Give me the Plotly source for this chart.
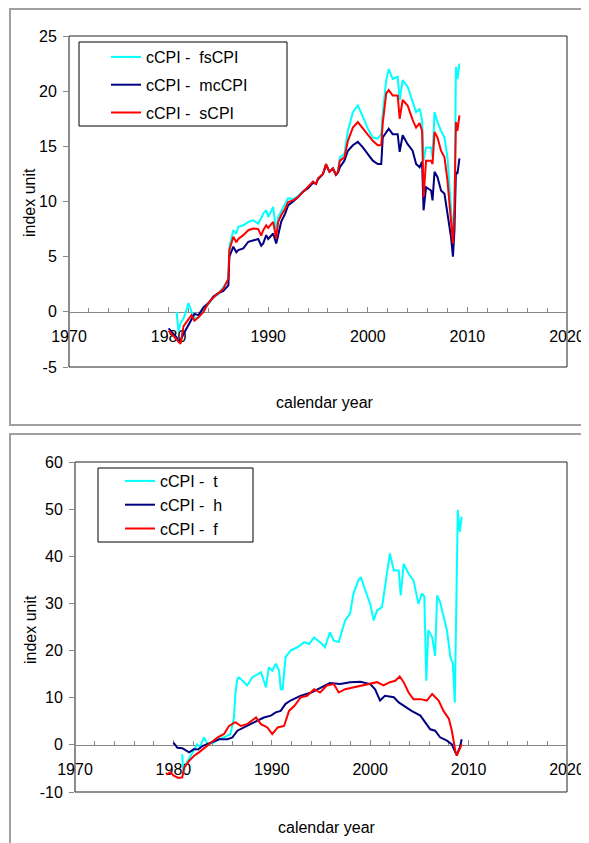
import plotly.graph_objects as go

W, H = 589, 843          # browser window
OFF = 8                  # default page body margin
FW, FH = W - OFF, H - OFF  # figure size so the page fits the window
FONT = "Liberation Sans, Arial, sans-serif"

# ---------------- top panel data ----------------
top_year = [1980.0, 1980.4, 1980.8, 1981.0, 1981.2, 1981.5, 1981.8, 1982.0, 1982.3, 1982.6,
            1983.0, 1983.5, 1984.0, 1984.5, 1985.0, 1985.5, 1986.0, 1986.1, 1986.5, 1986.8,
            1987.0, 1987.5, 1988.0, 1988.5, 1989.0, 1989.3, 1989.5, 1989.8, 1990.0, 1990.5,
            1990.8, 1991.0, 1991.3, 1991.7, 1992.0, 1992.5, 1993.0, 1993.5, 1994.0, 1994.5,
            1994.8, 1995.0, 1995.5, 1995.8, 1996.15, 1996.5, 1996.8, 1997.0, 1997.2, 1997.65,
            1998.0, 1998.5, 1999.0, 1999.5, 2000.0, 2000.5, 2001.0, 2001.35, 2001.5, 2001.85,
            2002.1, 2002.5, 2003.0, 2003.2, 2003.5, 2004.0, 2004.5, 2004.85, 2005.2, 2005.45,
            2005.6, 2005.85, 2006.35, 2006.5, 2006.7, 2007.0, 2007.35, 2007.7, 2008.0, 2008.35,
            2008.55, 2008.7, 2008.85, 2009.0, 2009.2]
top_fscpi = [None, None, 0.0, -1.8, -1.0, -0.6, 0.2, 0.8, 0.0, -0.6,
             -0.5, 0.2, 0.7, 1.3, 1.6, 2.3, 2.9, 5.9, 7.4, 7.1,
             7.7, 7.85, 8.15, 8.3, 8.0, 8.5, 8.9, 9.2, 8.6, 9.5,
             7.25, 8.6, 9.1, 9.8, 10.3, 10.2, 10.5, 10.9, 11.3, 11.8,
             11.6, 12.1, 12.5, 13.4, 12.7, 13.0, 12.4, 12.7, 14.0, 14.3,
             16.4, 18.1, 18.7, 17.7, 16.6, 15.8, 15.7, 16.1, 18.0, 21.0,
             22.0, 21.1, 21.3, 19.2, 21.0, 20.4, 19.0, 18.1, 18.4, 17.4,
             13.7, 14.9, 14.9, 14.0, 18.1, 17.2, 16.4, 15.8, 14.0, 9.5,
             6.8, 9.8, 22.2, 21.1, 22.5]
top_mccpi = [-1.5, -1.9, -2.3, -2.7, -2.6, -2.0, -1.5, -1.2, -0.6, -0.2,
             -0.3, 0.4, 0.8, 1.4, 1.7, 1.9, 2.4, 5.0, 5.9, 5.4,
             5.6, 5.75, 6.35, 6.5, 6.6, 6.0, 6.2, 6.95, 6.6, 7.1,
             6.2, 6.95, 8.15, 8.9, 9.65, 10.0, 10.4, 10.9, 11.2, 11.7,
             11.6, 12.0, 12.5, 13.3, 12.7, 13.0, 12.4, 12.6, 13.1, 13.7,
             14.6, 15.1, 15.4, 14.9, 14.3, 13.7, 13.4, 13.4, 15.8, 16.3,
             16.6, 16.1, 16.1, 14.5, 16.0, 15.2, 14.6, 13.4, 13.1, 13.6,
             9.2, 11.3, 11.0, 10.1, 12.7, 12.2, 11.0, 10.7, 8.9, 6.8,
             5.0, 7.4, 12.7, 12.5, 13.9]
top_scpi = [-1.7, -2.1, -2.5, -2.8, -2.9, -1.3, -0.9, -0.7, -0.3, -0.8,
            -0.5, 0.0, 0.8, 1.3, 1.7, 2.1, 3.0, 5.6, 6.8, 6.3,
            6.6, 6.95, 7.4, 7.55, 7.5, 6.9, 7.4, 7.85, 7.6, 8.15,
            6.65, 8.15, 8.75, 9.35, 9.95, 10.1, 10.4, 10.9, 11.3, 11.8,
            11.6, 12.1, 12.5, 13.4, 12.7, 13.0, 12.4, 12.7, 13.7, 14.0,
            15.5, 16.7, 17.2, 16.6, 16.0, 15.5, 15.1, 15.1, 17.1, 19.8,
            20.1, 19.6, 19.6, 17.5, 19.2, 18.7, 17.4, 16.7, 17.1, 16.4,
            10.4, 13.7, 13.7, 13.4, 16.3, 15.8, 14.6, 14.0, 11.9, 8.3,
            6.2, 9.2, 17.2, 16.4, 17.8]

# ---------------- bottom panel data ----------------
bot_t_year = [1980.9, 1981.0, 1981.3, 1981.7, 1982.1, 1982.4, 1982.7, 1983.1, 1983.5, 1984.1,
              1984.6, 1985.15, 1985.8, 1986.15, 1986.3, 1986.5, 1986.7, 1987.0, 1987.5, 1988.0,
              1988.5, 1988.9, 1989.2, 1989.4, 1989.7, 1990.05, 1990.4, 1990.75, 1990.9, 1991.1,
              1991.4, 1991.9, 1992.6, 1993.3, 1993.8, 1994.3, 1995.0, 1995.4, 1995.9, 1996.3,
              1996.8, 1997.45, 1997.95, 1998.3, 1998.8, 1999.05, 1999.5, 2000.0, 2000.35, 2000.7,
              2001.2, 2001.5, 2001.85, 2002.0, 2002.4, 2002.9, 2003.1, 2003.4, 2003.9, 2004.4,
              2004.9, 2005.25, 2005.5, 2005.7, 2005.9, 2006.3, 2006.6, 2006.8, 2007.1, 2007.45,
              2007.8, 2008.15, 2008.4, 2008.6, 2008.7, 2008.9, 2009.1, 2009.3]
bot_t = [-2.0, -6.2, -4.0, -2.5, -1.3, 0.1, -0.5, 1.6, 0.1, 0.5,
         1.2, 1.6, 2.3, 5.8, 10.8, 14.0, 14.3, 13.6, 12.6, 14.3,
         15.0, 15.4, 13.5, 12.2, 16.5, 15.7, 17.2, 15.7, 11.8, 11.8,
         18.6, 20.0, 20.7, 21.8, 21.4, 22.8, 21.6, 20.7, 23.9, 22.1,
         21.8, 26.4, 27.8, 32.1, 34.9, 35.6, 32.8, 29.9, 26.4, 28.5,
         29.2, 33.5, 39.1, 40.6, 37.0, 37.0, 31.7, 38.4, 36.3, 34.9,
         29.9, 32.1, 31.5, 13.6, 24.3, 22.8, 18.9, 31.7, 30.3, 27.1,
         24.3, 18.6, 17.2, 9.0, 26.4, 49.8, 45.2, 48.4]

bot_h_year = [1980.0, 1980.4, 1980.9, 1981.6, 1982.1, 1982.5, 1983.0, 1983.8, 1984.65, 1985.5,
              1986.0, 1986.5, 1987.2, 1987.9, 1988.5, 1989.2, 1989.9, 1990.4, 1990.9, 1991.4,
              1991.9, 1992.9, 1994.0, 1995.0, 1995.9, 1996.95, 1997.97, 1999.0, 2000.0, 2000.5,
              2001.0, 2001.5, 2002.4, 2002.9, 2003.4, 2004.2, 2005.1, 2005.6, 2006.1, 2006.6,
              2007.1, 2007.8, 2008.3, 2008.65, 2008.8, 2009.1, 2009.3]
bot_h = [0.5, -0.6, -0.7, -1.6, -0.9, -1.0, -0.2, 0.5, 1.2, 1.2,
         1.6, 3.0, 3.7, 4.4, 5.1, 5.8, 6.2, 6.9, 7.2, 8.7,
         9.4, 10.4, 11.1, 12.2, 13.1, 12.9, 13.3, 13.4, 12.9, 11.8,
         9.4, 10.4, 10.1, 9.0, 8.3, 7.2, 6.2, 4.8, 3.3, 3.0,
         1.6, 0.9, 0.1, -1.6, -2.1, -0.6, 1.2]

bot_f_year = [1979.3, 1979.7, 1980.0, 1980.5, 1980.9, 1981.1, 1981.6, 1982.1, 1982.6, 1983.0,
              1983.8, 1984.5, 1985.15, 1985.65, 1986.3, 1986.85, 1987.5, 1988.4, 1988.9, 1989.55,
              1990.05, 1990.6, 1991.25, 1991.75, 1992.3, 1992.95, 1993.6, 1994.3, 1994.9, 1995.6,
              1996.3, 1996.8, 1997.45, 1998.3, 1999.3, 2000.0, 2000.7, 2001.35, 2002.0, 2002.55,
              2003.0, 2003.4, 2003.9, 2004.4, 2005.1, 2005.75, 2006.3, 2006.95, 2007.45, 2008.0,
              2008.3, 2008.65, 2008.8, 2009.15, 2009.3]
bot_f = [-6.3, -5.8, -6.5, -7.0, -6.9, -4.8, -3.4, -2.3, -1.6, -0.9,
         0.5, 1.6, 2.3, 4.0, 4.8, 4.0, 4.4, 5.8, 4.4, 3.7,
         2.3, 3.7, 4.0, 7.2, 8.3, 10.1, 10.4, 11.8, 11.1, 12.6,
         12.9, 11.1, 11.8, 12.2, 12.6, 12.9, 13.3, 12.6, 13.3, 13.6,
         14.5, 13.3, 11.1, 9.7, 9.7, 9.4, 10.8, 9.4, 7.2, 5.5,
         3.0, -1.3, -2.3, -0.6, 0.1]

top_names = ["cCPI -\u00a0 fsCPI", "cCPI -\u00a0 mcCPI", "cCPI -\u00a0 sCPI"]
bot_names = ["cCPI -\u00a0 t", "cCPI -\u00a0 h", "cCPI -\u00a0 f"]
colors = ["#00FFFF", "#000080", "#FF0000"]

x_range = [1970, 2020]
top_y_range = [-5, 25]
bot_y_range = [-10, 60]
top_y_ticks = [-5, 0, 5, 10, 15, 20, 25]
bot_y_ticks = [-10, 0, 10, 20, 30, 40, 50, 60]
x_axis_title = "calendar year"
y_axis_title = "index unit"


def px(v):
    # window pixel -> paper fraction
    return (v - OFF) / FW


def py(v):
    return 1 - (v - OFF) / FH


fig = go.Figure()

for ys, name, c in zip([top_fscpi, top_mccpi, top_scpi], top_names, colors):
    fig.add_trace(go.Scatter(x=top_year, y=ys, mode="lines", name=name,
                             line=dict(color=c, width=2), xaxis="x", yaxis="y",
                             legend="legend", legendgroup=name, connectgaps=False))

for xs, ys, name, c in zip([bot_t_year, bot_h_year, bot_f_year], [bot_t, bot_h, bot_f], bot_names, colors):
    fig.add_trace(go.Scatter(x=xs, y=ys, mode="lines", name=name,
                             line=dict(color=c, width=2), xaxis="x2", yaxis="y2",
                             legend="legend2"))

top_ydom = [py(367), py(36)]
bot_ydom = [py(792), py(462)]


def zero_pos(dom, rng):
    return dom[0] + (0 - rng[0]) / (rng[1] - rng[0]) * (dom[1] - dom[0])


tickfont = dict(family=FONT, size=16, color="black")

xcommon = dict(range=x_range, tick0=1970, dtick=10, ticks="inside", ticklen=5,
               tickcolor="#888888", tickwidth=1,
               minor=dict(dtick=2, ticks="inside", ticklen=4, tickcolor="#888888"),
               showline=True, linecolor="#888888", linewidth=1,
               showgrid=False, zeroline=False, layer="below traces",
               tickfont=tickfont, ticklabelstandoff=10, anchor="free", automargin=False)
ycommon = dict(ticks="outside", ticklen=5, tickcolor="#888888", showline=True,
               linecolor="#888888", linewidth=1, showgrid=False, zeroline=False,
               tickfont=tickfont, ticklabelstandoff=3, layer="below traces", automargin=False)

fig.update_layout(
    template="none",
    width=FW, height=FH, autosize=False,
    margin=dict(l=0, r=0, t=0, b=0, pad=0),
    paper_bgcolor="white", plot_bgcolor="white",
    font=dict(family=FONT, size=16, color="black"),
    showlegend=True,
    xaxis=dict(domain=[px(69), px(567)], position=zero_pos(top_ydom, top_y_range), **xcommon),
    yaxis=dict(domain=top_ydom, range=top_y_range, tickmode="array", tickvals=top_y_ticks,
               ticktext=[str(v) for v in top_y_ticks], anchor="x", **ycommon),
    xaxis2=dict(domain=[px(75), px(567)], position=zero_pos(bot_ydom, bot_y_range), **xcommon),
    yaxis2=dict(domain=bot_ydom, range=bot_y_range, tickmode="array", tickvals=bot_y_ticks,
                ticktext=[str(v) for v in bot_y_ticks], anchor="x2", **ycommon),
    legend=dict(x=px(106), y=py(40), xanchor="left", yanchor="top",
                bgcolor="rgba(0,0,0,0)", borderwidth=0, traceorder="grouped",
                tracegroupgap=4, font=dict(family=FONT, size=16, color="black")),
    legend2=dict(x=px(120), y=py(464), xanchor="left", yanchor="top",
                 bgcolor="rgba(0,0,0,0)", borderwidth=0,
                 font=dict(family=FONT, size=16, color="black")),
)

shapes = [
    # outer panel borders
    dict(type="rect", xref="paper", yref="paper", x0=px(10), x1=1.02, y0=py(425), y1=py(9),
         line=dict(color="#a0a0a0", width=2), layer="below"),
    dict(type="rect", xref="paper", yref="paper", x0=px(10), x1=1.02, y0=-0.02, y1=py(434),
         line=dict(color="#a0a0a0", width=2), layer="below"),
    # plot area frames
    dict(type="rect", xref="x domain", yref="y domain", x0=0, x1=1, y0=0, y1=1,
         line=dict(color="#222222", width=1), layer="below"),
    dict(type="rect", xref="x2 domain", yref="y2 domain", x0=0, x1=1, y0=0, y1=1,
         line=dict(color="#222222", width=1), layer="below"),
    # legend boxes
    dict(type="rect", xref="paper", yref="paper", x0=px(79), x1=px(287), y0=py(126), y1=py(42),
         line=dict(color="black", width=1)),
    dict(type="rect", xref="paper", yref="paper", x0=px(98), x1=px(253), y0=py(542), y1=py(468),
         line=dict(color="black", width=1)),
]
fig.update_layout(shapes=shapes)

ann = dict(xref="paper", yref="paper", showarrow=False, font=dict(family=FONT, size=16, color="black"),
           xanchor="center", yanchor="middle")
fig.add_annotation(text=y_axis_title, x=px(30), y=py(203), textangle=-90, **ann)
fig.add_annotation(text=y_axis_title, x=px(30), y=py(630), textangle=-90, **ann)
fig.add_annotation(text=x_axis_title, x=px(325), y=py(402), **ann)
fig.add_annotation(text=x_axis_title, x=px(327), y=py(827), **ann)

fig.write_html("out.html")
